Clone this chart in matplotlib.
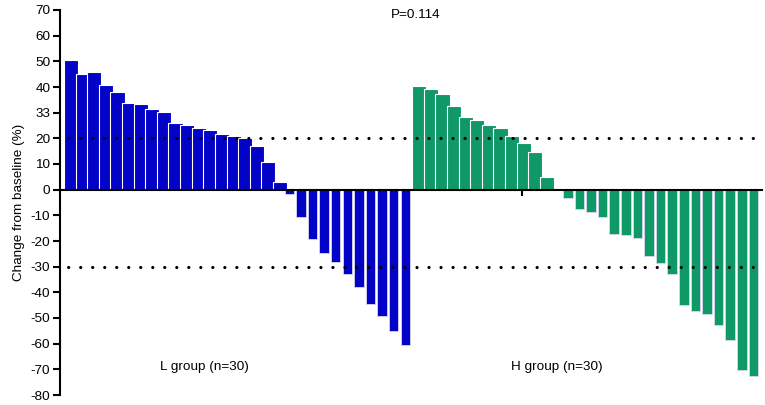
import matplotlib
matplotlib.use("Agg")
import matplotlib.pyplot as plt
import numpy as np

plt.rcParams['font.family'] = ['Liberation Sans', 'DejaVu Sans']

# Valores (% de alteração face ao baseline), já ordenados
l_group = [50.5, 45.0, 45.8, 40.7, 38.0, 33.9, 33.3, 31.3, 30.4, 26.1,
           25.2, 24.0, 23.3, 21.7, 20.9, 20.3, 17.0, 10.7, 3.1, -1.8,
           -10.5, -19.3, -24.8, -28.0, -32.7, -37.9, -44.7, -49.2, -54.9, -60.5]
h_group = [40.5, 39.1, 37.2, 32.7, 28.2, 27.2, 25.1, 24.2, 20.9, 18.1,
           14.8, 4.8, 0.0, -3.4, -7.6, -8.7, -10.5, -17.1, -17.8, -18.7,
           -25.7, -28.7, -32.7, -44.8, -47.1, -48.3, -52.7, -58.7, -70.4, -72.7]
group_labels = ['L group (n=30)', 'H group (n=30)']
p_text = 'P=0.114'
ref_lines = [20, -30]
y_ticks = list(range(-80, 71, 10))
y_ticklabels = ['33' if t == 30 else f'{t}' for t in y_ticks]

BLUE = '#0303c8'
GREEN = '#0f9967'

fig = plt.figure(figsize=(7.65, 4.05), dpi=100)
ax = fig.add_axes([60 / 765, 10 / 405, 702 / 765, 385 / 405])

values = l_group + h_group
colors = [BLUE] * len(l_group) + [GREEN] * len(h_group)
for i, (v, c) in enumerate(zip(values, colors)):
    if v > 0:
        ax.bar(i, v, width=1.22, align='edge', color=c, edgecolor='white',
               linewidth=0.8, zorder=2)
    elif v < 0:
        ax.bar(i, v, width=0.82, align='edge', color=c, edgecolor='#d8d8f0',
               linewidth=0.6, zorder=2)

# Linhas de referência pontilhadas
for y in ref_lines:
    ax.axhline(y, color='black', linewidth=2.3, linestyle=(1.2, (0.01, 3.75)),
               dash_capstyle='round', zorder=3)

ax.set_xlim(-0.35, 60.15)
ax.set_ylim(-80, 70)

ax.spines['top'].set_visible(False)
ax.spines['right'].set_visible(False)
ax.spines['bottom'].set_position(('data', 0))
ax.spines['bottom'].set_linewidth(1.5)
ax.spines['bottom'].set_zorder(4)
ax.spines['left'].set_linewidth(1.5)

ax.set_xticks([39.5])
ax.set_xticklabels([''])
ax.tick_params(axis='x', direction='out', length=4, width=1.5)

ax.set_yticks(y_ticks)
ax.set_yticklabels(y_ticklabels)
ax.tick_params(axis='y', direction='out', length=5, width=1.5, labelsize=9.7, pad=2)

ax.set_ylabel('Change from baseline (%)', fontsize=9.7, labelpad=4)

ax.text(12.1, -69, group_labels[0], ha='center', va='center', fontsize=9.7)
ax.text(42.5, -69, group_labels[1], ha='center', va='center', fontsize=9.7)
ax.text(30.3, 68, p_text, ha='center', va='center', fontsize=9.7)

fig.savefig('out.png', dpi=100)
